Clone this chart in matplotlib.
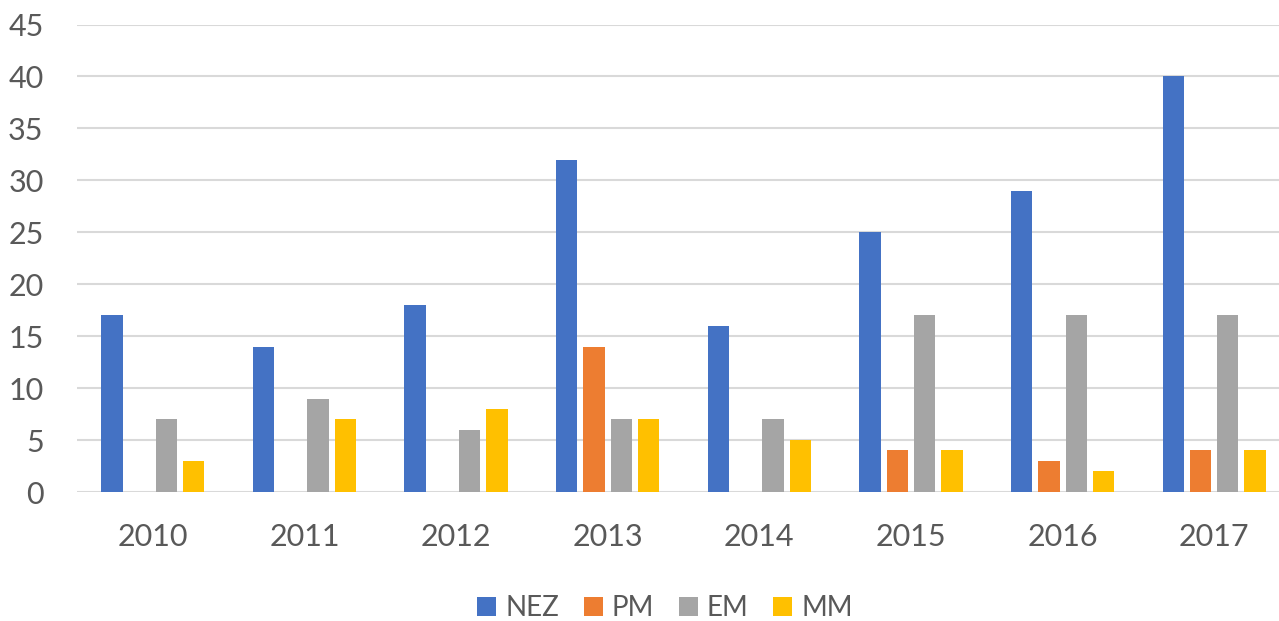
import matplotlib
matplotlib.use("Agg")
import matplotlib.pyplot as plt
import numpy as np

years = ["2010", "2011", "2012", "2013", "2014", "2015", "2016", "2017"]
series_names = ["NEZ", "PM", "EM", "MM"]
nez = [17, 14, 18, 32, 16, 25, 29, 40]
pm = [0, 0, 0, 14, 0, 4, 3, 4]
em = [7, 9, 6, 7, 7, 17, 17, 17]
mm = [3, 7, 8, 7, 5, 4, 2, 4]
colors = ["#4472C4", "#ED7D31", "#A5A5A5", "#FFC000"]

W, H = 1279, 621
fig = plt.figure(figsize=(W / 100, H / 100), dpi=100)
left, right, bottom, top = 77, 1290, 492, 24.5
ax = fig.add_axes([left / W, (H - bottom) / H, (right - left) / W, (bottom - top) / H])

font = "Lato"
tc = "#595959"
x = np.arange(len(years))
pitch = 27.3 / 151.6
width = 21.3 / 151.6
handles = []
for i, (vals, c) in enumerate(zip([nez, pm, em, mm], colors)):
    h = ax.bar(x + (i - 1.5) * pitch, vals, width, color=c, zorder=3, label=series_names[i])
    handles.append(h)

ax.set_xlim(-0.5, len(years) - 0.5)
ax.set_ylim(0, 45)
ax.set_yticks(range(0, 46, 5))
ax.set_xticks(x)
ax.set_xticklabels(years)
ax.grid(axis="y", color="#D9D9D9", lw=1.5, zorder=0)
for s in ax.spines.values():
    s.set_visible(False)
ax.tick_params(axis="both", length=0, labelsize=22, labelcolor=tc)
ax.tick_params(axis="y", pad=24)
ax.tick_params(axis="x", pad=22)
for lab in ax.get_xticklabels() + ax.get_yticklabels():
    lab.set_fontfamily(font)

leg = fig.legend(handles=handles, labels=series_names, loc="center",
                 bbox_to_anchor=(665 / W, (H - 608) / H), ncol=4, frameon=False,
                 prop={"family": font, "size": 20}, handlelength=0.68, handleheight=0.68,
                 handletextpad=0.32, columnspacing=0.9, labelcolor=tc)

fig.savefig("out.png", dpi=100)
